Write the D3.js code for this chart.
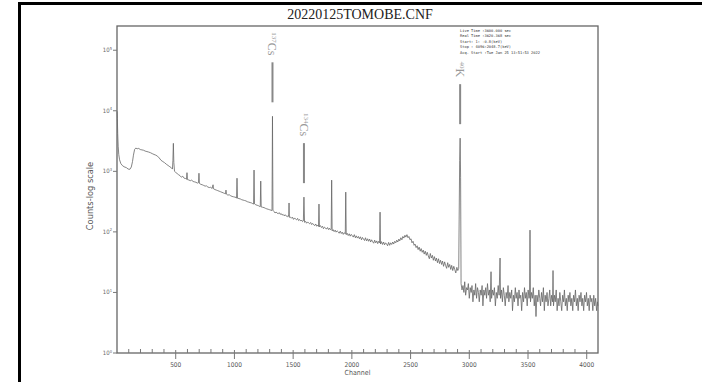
<!DOCTYPE html>
<html>
<head>
<meta charset="utf-8">
<script src="https://cdn.jsdelivr.net/npm/d3@7"></script>
<style>
  html, body { margin: 0; padding: 0; background: #fff; }
  svg { display: block; }
</style>
</head>
<body>
<div class="chart"></div>
<script>
const width = 702;
const height = 382;
const margin = { top: 26, right: 104, bottom: 29, left: 117 };

const title = "20220125TOMOBE.CNF";
const xLabel = "Channel";
const yLabel = "Counts-log scale";
const xTicks = [500, 1000, 1500, 2000, 2500, 3000, 3500, 4000];
const yTicks = [1, 10, 100, 1000, 10000, 100000];
const infoLines = [
    "Live Time  :3600.000 sec",
    "Real Time  :3620.368 sec",
    "Start:     1:   -0.8(keV)",
    "Stop : 4096:2048.7(keV)",
    "Acq. Start :Tue Jan 25 13:51:53 2022"
];

// isotope markers: mass number, element, channel of the peak, peak counts
const isoMass = ["137", "134", "40"];
const isoName = ["Cs", "Cs", "K"];
const isoChannel = [1324, 1592, 2922];
const isoPeak = [8100, 375, 3530];

// spectrum: [channel, counts]
const spectrum = [
[1,9800],[3,7500],[6,4200],[10,2600],[15,1900],[22,1550],[32,1350],[45,1250],[60,1190],[80,1150],
[95,1090],[110,1080],[122,1180],[132,1450],[140,1850],[150,2300],[160,2420],[172,2360],[185,2390],[198,2290],
[212,2260],[226,2230],[240,2160],[255,2120],[270,2080],[285,2030],[300,1960],[315,1900],[330,1850],[345,1780],
[360,1660],[375,1520],[390,1450],[405,1390],[420,1310],[435,1250],[450,1190],[462,1150],[472,1090],[476,1500],
[480,2900],[484,1400],[490,1000],[500,960],[512,920],[524,880],[536,850],[548,800],[560,830],[572,770],
[584,760],[592,740],[596,950],[600,730],[612,720],[624,700],[636,715],[648,680],[660,670],[672,660],
[684,640],[694,650],[698,930],[702,630],[714,610],[726,600],[738,585],[750,570],[762,575],[774,550],
[786,540],[798,545],[810,520],[818,600],[822,515],[834,500],[846,490],[858,480],[870,470],[882,460],
[894,450],[906,440],[918,430],[924,425],[928,490],[932,420],[944,405],[956,410],[968,395],[980,385],
[992,380],[1004,375],[1014,370],[1018,360],[1022,770],[1026,360],[1038,355],[1050,350],[1062,340],[1074,335],
[1086,330],[1098,325],[1110,315],[1122,310],[1134,305],[1146,300],[1156,292],[1163,288],[1167,1050],[1171,290],
[1182,280],[1194,275],[1206,270],[1216,262],[1220,262],[1224,690],[1228,258],[1240,255],[1252,252],[1264,245],
[1276,240],[1288,236],[1300,232],[1312,228],[1320,225],[1324,8100],[1328,228],
[1338,216],[1346,205],[1355,213],[1364,204],[1372,199],[1381,208],[1390,195],[1398,201],[1406,190],[1415,194],
[1424,184],[1432,192],[1441,183],[1450,178],[1458,186],[1462,180],[1465,300],[1468,174],[1477,176],[1486,168],
[1494,175],[1503,161],[1512,170],[1520,163],[1529,158],[1538,167],[1546,154],[1555,160],[1564,151],[1572,157],
[1580,148],[1587,152],[1592,375],[1597,144],[1606,149],[1614,139],[1623,146],[1632,140],[1640,136],[1649,143],
[1658,132],[1666,138],[1675,131],[1684,127],[1692,135],[1701,124],[1710,129],[1716,123],[1720,288],[1724,121],
[1732,127],[1741,118],[1750,124],[1758,113],[1767,120],[1776,116],[1784,111],[1793,118],[1802,109],[1810,115],
[1818,108],[1824,111],[1828,716],[1832,104],[1840,109],[1849,101],[1858,107],[1866,99],[1875,104],[1884,100],
[1892,95],[1901,103],[1910,94],[1918,99],[1927,91],[1936,97],[1944,93],[1948,454],[1952,90],[1960,95],
[1969,87],[1978,93],[1986,85],[1995,91],[2004,86],[2012,82],[2021,90],[2030,80],[2038,86],[2047,79],
[2056,84],[2064,77],[2073,83],[2082,74],[2090,81],[2099,76],[2108,72],[2116,80],[2125,71],[2134,77],
[2142,70],[2151,76],[2160,68],[2168,74],[2177,69],[2186,65],[2194,73],[2203,66],[2212,71],[2220,64],
[2229,70],[2236,66],[2240,212],[2244,63],[2252,69],[2261,62],[2270,68],[2278,61],[2287,66],[2296,63],
[2304,59],[2313,67],[2322,60],[2330,66],[2339,62],[2348,68],[2356,63],[2365,70],[2374,66],[2382,73],
[2391,68],[2400,76],[2408,71],[2417,80],[2426,74],[2434,84],[2443,79],[2452,88],[2460,82],[2469,90],
[2478,80],[2486,84],[2495,74],[2504,77],[2512,66],[2521,70],[2530,60],[2538,63],[2547,55],[2556,59],
[2564,51],[2573,56],[2582,48],[2590,53],[2599,46],[2608,50],[2616,43],[2625,48],[2634,41],[2642,46],
[2651,40],[2660,36],[2668,44],[2677,37],[2686,41],[2694,34],[2703,39],[2712,33],[2720,37],[2729,31],
[2738,36],[2746,30],[2755,34],[2764,29],[2772,33],[2781,27],[2790,32],[2798,28],[2807,25],[2816,31],
[2824,26],[2833,29],[2842,24],[2850,28],[2859,23],[2868,27],[2876,24],[2885,21],[2894,26],[2902,23],
[2910,25],[2918,1500],[2922,3530],[2926,800],[2930,14],
[2938,11],[2946,13],[2954,10],[2961,15],[2969,9],[2977,12],[2985,11],[2992,14],[3000,8],[3008,12],
[3016,10],[3023,13],[3031,7],[3039,11],[3047,9],[3054,14],[3062,8],[3070,12],[3078,10],[3085,7],
[3093,11],[3101,9],[3109,13],[3116,6],[3124,11],[3132,9],[3140,12],[3147,8],[3155,14],[3163,9],
[3171,11],[3178,7],[3185,22],[3190,8],[3198,11],[3206,9],[3214,12],[3222,6],[3230,10],[3238,8],
[3246,13],[3254,9],[3262,37],[3266,8],[3274,11],[3282,7],[3290,12],[3298,9],[3306,6],[3314,10],
[3322,8],[3330,13],[3337,7],[3345,10],[3353,8],[3361,11],[3368,5],[3376,9],[3384,7],[3392,12],
[3399,8],[3407,10],[3415,6],[3423,11],[3430,8],[3438,9],[3446,5],[3454,10],[3462,7],[3470,12],
[3477,8],[3485,10],[3493,6],[3501,11],[3509,8],[3513,9],[3517,107],[3521,7],[3529,10],[3537,8],
[3545,12],[3553,6],[3561,9],[3568,4],[3576,9],[3584,7],[3592,11],[3600,8],[3607,6],[3615,10],
[3623,7],[3631,12],[3639,5],[3646,9],[3654,7],[3662,10],[3670,6],[3678,8],[3685,11],[3693,6],
[3701,9],[3709,7],[3713,23],[3717,6],[3725,9],[3732,7],[3740,11],[3748,5],[3756,8],[3764,6],
[3771,10],[3779,7],[3787,5],[3795,9],[3803,7],[3810,11],[3818,6],[3826,8],[3834,5],[3842,9],
[3849,7],[3857,10],[3865,6],[3873,8],[3881,5],[3888,9],[3896,7],[3904,11],[3912,6],[3920,8],
[3927,5],[3935,9],[3943,7],[3951,10],[3959,6],[3966,8],[3974,5],[3982,9],[3990,7],[3998,10],
[4005,6],[4013,8],[4021,5],[4029,9],[4037,7],[4044,8],[4052,5],[4060,9],[4068,6],[4076,8],
[4084,5],[4091,7],[4095,6]
];

const sansFont = "'DejaVu Sans Condensed', 'Liberation Sans Narrow', sans-serif";
const serifFont = "'Liberation Serif', 'DejaVu Serif', serif";

const svg = d3.select("div.chart")
    .append("svg")
    .attr("width", width)
    .attr("height", height)
    .attr("viewBox", [0, 0, width, height]);

// black frame on the left and top
svg.append("path")
    .attr("d", `M19.5,${height} V3.5 H${width}`)
    .attr("fill", "none")
    .attr("stroke", "#000")
    .attr("stroke-width", 3);

const x = d3.scaleLinear()
    .domain([0, 4096])
    .range([margin.left, width - margin.right]);

const y = d3.scaleLog()
    .domain([1, Math.pow(10, 5.4)])
    .range([height - margin.bottom, margin.top]);

// plot box
svg.append("rect")
    .attr("x", margin.left)
    .attr("y", margin.top)
    .attr("width", width - margin.left - margin.right)
    .attr("height", height - margin.top - margin.bottom)
    .attr("fill", "none")
    .attr("stroke", "#666")
    .attr("stroke-width", 1.3);

// spectrum line
const line = d3.line()
    .x(d => x(d[0]))
    .y(d => y(d[1]));

svg.append("path")
    .datum(spectrum)
    .attr("fill", "none")
    .attr("stroke", "#666")
    .attr("stroke-width", 0.8)
    .attr("d", line);

// x axis: major ticks cross the axis, minor every 100 channels point inward
const xAxis = svg.append("g")
    .attr("transform", `translate(0,${height - margin.bottom})`);

xAxis.selectAll("line.minor")
    .data(d3.range(100, 4100, 100).filter(v => v % 500 !== 0))
    .join("line")
    .attr("class", "minor")
    .attr("x1", d => x(d)).attr("x2", d => x(d))
    .attr("y1", 0).attr("y2", -4)
    .attr("stroke", "#777");

xAxis.selectAll("line.major")
    .data(xTicks)
    .join("line")
    .attr("class", "major")
    .attr("x1", d => x(d)).attr("x2", d => x(d))
    .attr("y1", -3).attr("y2", 6)
    .attr("stroke", "#777");

xAxis.selectAll("text")
    .data(xTicks)
    .join("text")
    .attr("x", d => x(d))
    .attr("y", 14)
    .attr("text-anchor", "middle")
    .attr("font-family", sansFont)
    .attr("font-size", 6.5)
    .attr("fill", "#555")
    .text(d => d);

// y axis
const yAxis = svg.append("g")
    .attr("transform", `translate(${margin.left},0)`);

yAxis.selectAll("line")
    .data(yTicks)
    .join("line")
    .attr("x1", -4).attr("x2", 0)
    .attr("y1", d => y(d)).attr("y2", d => y(d))
    .attr("stroke", "#777");

const yLab = yAxis.selectAll("text")
    .data(yTicks)
    .join("text")
    .attr("x", -5)
    .attr("y", d => y(d) + 2)
    .attr("text-anchor", "end")
    .attr("font-family", sansFont)
    .attr("font-size", 6)
    .attr("fill", "#666");
yLab.append("tspan").text("10");
yLab.append("tspan")
    .attr("dy", -2.5)
    .attr("font-size", 4)
    .text(d => Math.round(Math.log10(d)));

// axis titles
svg.append("text")
    .attr("x", (margin.left + width - margin.right) / 2)
    .attr("y", height - 7)
    .attr("text-anchor", "middle")
    .attr("font-family", sansFont)
    .attr("font-size", 7)
    .attr("fill", "#555")
    .text(xLabel);

svg.append("text")
    .attr("transform", `translate(93,196) rotate(-90)`)
    .attr("text-anchor", "middle")
    .attr("font-family", sansFont)
    .attr("font-size", 9.2)
    .attr("fill", "#555")
    .text(yLabel);

svg.append("text")
    .attr("x", 360)
    .attr("y", 19)
    .attr("text-anchor", "middle")
    .attr("font-family", serifFont)
    .attr("font-size", 14)
    .attr("fill", "#222")
    .text(title);

// acquisition info
svg.append("g")
    .selectAll("text")
    .data(infoLines)
    .join("text")
    .attr("x", 460)
    .attr("y", (d, i) => 32 + i * 5.4)
    .attr("font-family", "'DejaVu Sans Mono', 'Liberation Mono', monospace")
    .attr("font-size", 3.7)
    .attr("fill", "#333")
    .text(d => d);

// isotope markers
const iso = svg.append("g")
    .selectAll("g")
    .data(isoChannel)
    .join("g")
    .attr("transform", (d, i) => `translate(${x(d)},${y(isoPeak[i])})`);

iso.append("line")
    .attr("x1", 0).attr("x2", 0)
    .attr("y1", -14).attr("y2", -54)
    .attr("stroke", "#888")
    .attr("stroke-width", 2);

const isoText = iso.append("text")
    .attr("transform", "translate(-4,-61) rotate(90)")
    .attr("text-anchor", "end")
    .attr("font-family", serifFont)
    .attr("font-size", 12)
    .attr("fill", "#999");
isoText.append("tspan")
    .attr("font-size", 7)
    .attr("dy", -4)
    .text((d, i) => isoMass[i]);
isoText.append("tspan")
    .attr("dy", 4)
    .text((d, i) => isoName[i]);
</script>
</body>
</html>
